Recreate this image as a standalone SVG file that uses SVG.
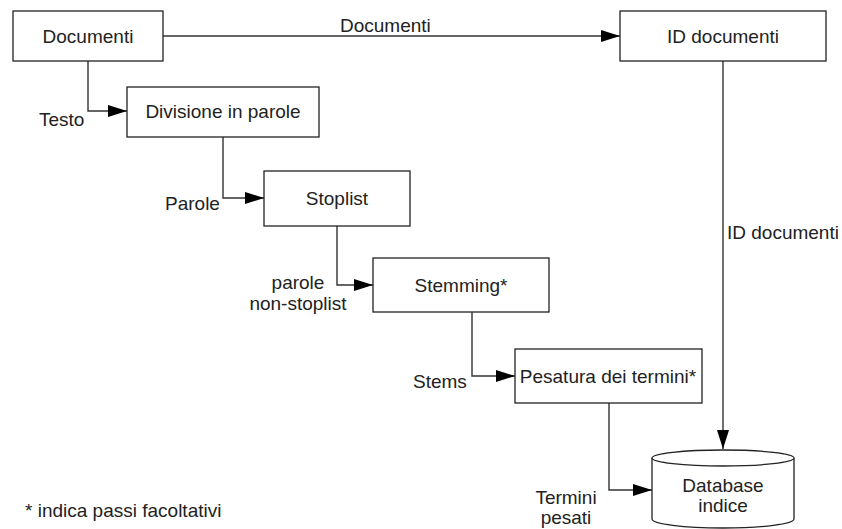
<svg xmlns="http://www.w3.org/2000/svg" width="842" height="529" viewBox="0 0 842 529">
<defs>
<style>
.box{fill:#fff;stroke:#222;stroke-width:1.3}
.t{font-family:"Liberation Sans",Arial,sans-serif;font-size:19px;fill:#222}
.m{text-anchor:middle}
.c{fill:none;stroke:#333;stroke-width:1.4}
</style>
<marker id="ah" markerWidth="19" markerHeight="12" refX="19" refY="6" orient="auto" markerUnits="userSpaceOnUse">
<path d="M0,0 L19,6 L0,12 Z" fill="#000"/>
</marker>
</defs>
<rect width="842" height="529" fill="#fff"/>
<g id="connectors">
<path class="c" d="M163,36 H620" marker-end="url(#ah)"/>
<path class="c" d="M88,61 V111 H127" marker-end="url(#ah)"/>
<path class="c" d="M223,137 V198 H264" marker-end="url(#ah)"/>
<path class="c" d="M337,226 V285 H373" marker-end="url(#ah)"/>
<path class="c" d="M472,312 V376 H515" marker-end="url(#ah)"/>
<path class="c" d="M609,403 V490 H652" marker-end="url(#ah)"/>
<path class="c" d="M723,61 V449" marker-end="url(#ah)"/>
<text class="t" x="340" y="32">Documenti</text>
<text class="t" x="39" y="126">Testo</text>
<text class="t" x="165" y="210">Parole</text>
<text class="t m" x="298" y="289">parole</text>
<text class="t m" x="298" y="310">non-stoplist</text>
<text class="t" x="413" y="388">Stems</text>
<text class="t m" x="566" y="504">Termini</text>
<text class="t m" x="566" y="524">pesati</text>
<text class="t" x="727" y="239">ID documenti</text>
</g>
<g id="documenti">
<rect class="box" x="13" y="11" width="150" height="50"/>
<text class="t m" x="88" y="43">Documenti</text>
</g>
<g id="id-documenti">
<rect class="box" x="620" y="11" width="206" height="50"/>
<text class="t m" x="723" y="43">ID documenti</text>
</g>
<g id="divisione">
<rect class="box" x="127" y="87" width="192" height="50"/>
<text class="t m" x="223" y="118">Divisione in parole</text>
</g>
<g id="stoplist">
<rect class="box" x="264" y="171" width="146" height="55"/>
<text class="t m" x="337" y="205">Stoplist</text>
</g>
<g id="stemming">
<rect class="box" x="373" y="258" width="176" height="54"/>
<text class="t m" x="461" y="292">Stemming*</text>
</g>
<g id="pesatura">
<rect class="box" x="515" y="349" width="187" height="54"/>
<text class="t m" x="608" y="383">Pesatura dei termini*</text>
</g>
<g id="database">
<path class="box" d="M652,458 V519 A71,9 0 0 0 794,519 V458"/>
<ellipse class="box" cx="723" cy="458" rx="71" ry="8"/>
<text class="t m" x="723" y="492">Database</text>
<text class="t m" x="723" y="512">indice</text>
</g>
<g id="nota">
<text class="t" x="25" y="517">* indica passi facoltativi</text>
</g>
</svg>
